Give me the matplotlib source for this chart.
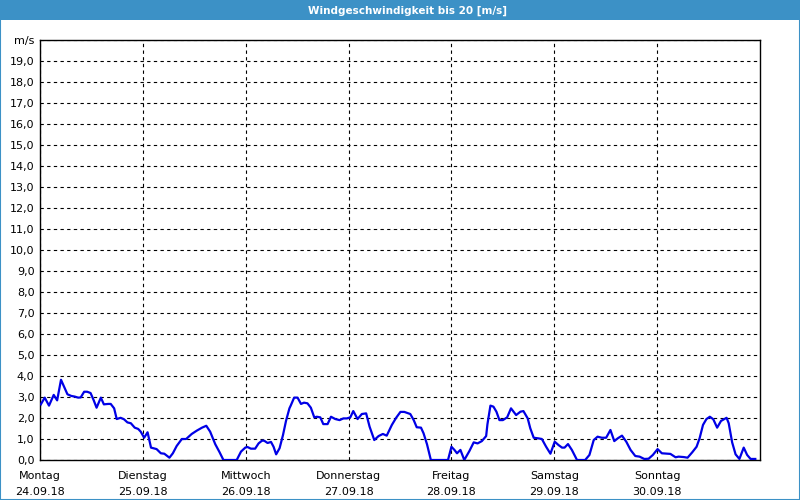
import matplotlib.pyplot as plt
from matplotlib.patches import Rectangle

# hours since Monday 24.09.18 00:00, wind speed in m/s
hours = [0.2, 1.1, 2.1, 3.2, 4.0, 4.9, 5.8, 6.4, 7.3, 8.1, 8.9, 9.5, 10.3, 11.0, 11.8,
         12.5, 13.2, 14.2, 14.9, 15.9, 16.5, 17.3, 17.9, 18.8, 19.6, 20.4, 21.2, 22.1,
         22.9, 23.5, 24.3, 25.1, 25.9, 27.2, 28.2, 29.0, 30.2, 31.0, 31.9, 33.1, 34.1,
         35.4, 36.6, 37.8, 38.8, 39.7, 40.9, 41.9, 42.8, 45.9, 46.9, 47.9, 48.4, 49.2,
         50.2, 51.0, 51.8, 52.3, 53.1, 53.9, 54.5, 55.1, 55.9, 56.7, 57.4, 58.2, 58.5,
         59.3, 60.1, 60.9, 61.6, 62.4, 63.2, 64.0, 64.6, 65.4, 66.1, 67.1, 67.9, 68.9,
         69.9, 70.8, 71.6, 72.4, 73.1, 74.1, 75.1, 76.1, 76.9, 78.0, 79.0, 80.0, 80.9,
         82.1, 83.1, 84.1, 85.0, 86.4, 87.2, 87.9, 88.9, 89.5, 90.3, 91.2, 95.2, 96.0,
         96.7, 97.3, 98.1, 99.0, 100.2, 101.2, 102.1, 103.1, 104.1, 104.4, 105.1, 105.8,
         106.5, 107.2, 108.0, 109.0, 109.9, 111.1, 112.1, 112.8, 113.8, 114.4, 115.2,
         116.3, 117.1, 118.1, 119.1, 120.1, 121.0, 121.8, 122.4, 123.2, 124.1, 125.3,
         127.2, 128.2, 129.2, 130.1, 131.1, 132.1, 133.1, 134.0, 134.8, 135.8, 136.8,
         137.8, 138.9, 139.9, 141.0, 142.0, 143.0, 144.1, 145.1, 147.1, 148.3, 149.0,
         150.2, 151.1, 152.2, 153.2, 153.9, 154.7, 155.5, 156.3, 157.1, 158.0, 158.9,
         160.2, 160.7, 161.5, 162.3, 163.2, 164.2, 165.0, 165.8, 166.9]
speed = [2.65, 2.97, 2.59, 3.10, 2.84, 3.82, 3.41, 3.13, 3.05, 3.02, 2.97, 2.98, 3.25,
         3.25, 3.19, 2.86, 2.49, 2.97, 2.65, 2.67, 2.67, 2.46, 1.95, 2.01, 1.94, 1.79,
         1.75, 1.54, 1.48, 1.35, 1.06, 1.32, 0.59, 0.52, 0.32, 0.30, 0.11, 0.32, 0.67,
         1.00, 1.00, 1.24, 1.40, 1.54, 1.63, 1.35, 0.75, 0.37, 0.0, 0.0, 0.40, 0.59,
         0.62, 0.54, 0.54, 0.79, 0.92, 0.92, 0.81, 0.86, 0.63, 0.27, 0.56, 1.19, 1.86,
         2.46, 2.59, 2.97, 2.97, 2.67, 2.73, 2.70, 2.49, 2.03, 2.06, 2.03, 1.71, 1.71,
         2.06, 1.95, 1.90, 1.98, 1.98, 2.03, 2.33, 1.95, 2.19, 2.22, 1.59, 0.95, 1.14,
         1.24, 1.16, 1.67, 2.01, 2.29, 2.29, 2.19, 1.90, 1.56, 1.54, 1.27, 0.75, 0.0,
         0.0, 0.63, 0.48, 0.32, 0.48, 0.0, 0.43, 0.84, 0.79, 0.90, 1.14, 1.70, 2.59,
         2.54, 2.30, 1.90, 1.90, 2.03, 2.46, 2.14, 2.30, 2.33, 1.98, 1.51, 1.06, 1.03,
         1.00, 0.63, 0.30, 0.87, 0.71, 0.59, 0.59, 0.76, 0.48, 0.0, 0.0, 0.24, 0.95,
         1.11, 1.06, 1.06, 1.43, 0.90, 1.03, 1.16, 0.87, 0.48, 0.19, 0.16, 0.05, 0.06,
         0.24, 0.52, 0.32, 0.29, 0.13, 0.16, 0.14, 0.11, 0.37, 0.63, 1.03, 1.67, 1.95,
         2.06, 1.94, 1.54, 1.86, 2.01, 1.75, 0.84, 0.27, 0.05, 0.59, 0.24, 0.05, 0.05]

day_names = ['Montag', 'Dienstag', 'Mittwoch', 'Donnerstag', 'Freitag', 'Samstag', 'Sonntag']
day_dates = ['24.09.18', '25.09.18', '26.09.18', '27.09.18', '28.09.18', '29.09.18', '30.09.18']
title = 'Windgeschwindigkeit bis 20 [m/s]'
blue = '#3c91c6'

fig = plt.figure(figsize=(8, 5), dpi=100)
fig.patch.set_facecolor('white')

# title bar and frame
fig.patches.append(Rectangle((0, 480 / 500), 1, 20 / 500, transform=fig.transFigure,
                             facecolor=blue, edgecolor='none', zorder=0))
fig.patches.append(Rectangle((0.0006, 0.001), 0.9988, 0.998, transform=fig.transFigure,
                             facecolor='none', edgecolor=blue, linewidth=1.5, zorder=1))
fig.text(0.509, 0.979, title, color='white', fontsize=7.5, fontweight='bold',
         ha='center', va='center')

ax = fig.add_axes([40 / 800, 40 / 500, 720 / 800, 420 / 500])
ax.plot([h / 24 for h in hours], speed, color='#0000e6', linewidth=1.6, zorder=3)

ax.set_xlim(0, 7)
ax.set_ylim(0, 20)

yt = list(range(0, 21))
ax.set_yticks(yt)
ax.set_yticklabels(['%d,0' % v for v in yt[:-1]] + ['m/s'], fontsize=8)
ax.set_xticks(range(7))
ax.set_xticklabels(['%s\n%s' % (n, d) for n, d in zip(day_names, day_dates)],
                   fontsize=8, linespacing=1.75)
ax.tick_params(length=0, pad=4)
ax.tick_params(axis='x', pad=8)

ax.grid(True, color='black', linestyle=(0, (3, 3)), linewidth=0.8)
for s in ax.spines.values():
    s.set_color('black')
    s.set_linewidth(1)

fig.savefig('out.png', dpi=100)
